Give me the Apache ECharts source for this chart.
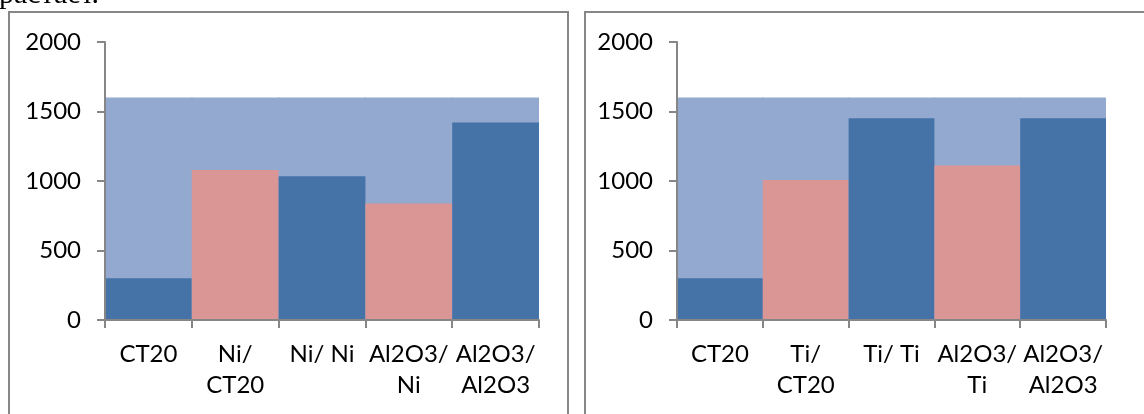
<!DOCTYPE html>
<html>
<head>
<meta charset="utf-8">
<script src="https://cdn.jsdelivr.net/npm/echarts@6/dist/echarts.min.js"></script>
<style>
html,body{margin:0;padding:0;background:#fff;}
#c{width:1144px;height:414px;}
</style>
</head>
<body>
<div id="c"></div>
<script>
const leftCategories = ['CT20', 'Ni/\nCT20', 'Ni/ Ni', 'Al2O3/\nNi', 'Al2O3/\nAl2O3'];
const leftValues = [300, 1080, 1035, 838, 1420];
const rightCategories = ['CT20', 'Ti/\nCT20', 'Ti/ Ti', 'Al2O3/\nTi', 'Al2O3/\nAl2O3'];
const rightValues = [300, 1008, 1452, 1112, 1452];
const backgroundValue = [1600, 1600, 1600, 1600, 1600];
const yTicks = [0, 500, 1000, 1500, 2000];

const DARK = '#4572A7', PINK = '#D99694', LIGHT = '#94A9CF';
const barColors = [DARK, PINK, DARK, PINK, DARK];
const FONT = 'Lato';
const AXIS = '#868686';

const chart = echarts.init(document.getElementById('c'), null, {renderer: 'canvas'});

function xAxis(idx, cats) {
  return {
    type: 'category', gridIndex: idx, data: cats, boundaryGap: true, z: 5,
    axisLine: {lineStyle: {color: AXIS, width: 2}},
    axisTick: {show: true, length: 8, lineStyle: {color: AXIS, width: 2}},
    axisLabel: {color: '#000', fontFamily: FONT, fontSize: 24, lineHeight: 31, margin: 19, interval: 0}
  };
}
function hiddenX(idx, cats) {
  return {type: 'category', gridIndex: idx, data: cats, boundaryGap: true, show: false};
}
function yAxis(idx) {
  return {
    type: 'value', gridIndex: idx, min: yTicks[0], max: yTicks[yTicks.length - 1], interval: 500, z: 5,
    axisLine: {show: true, lineStyle: {color: AXIS, width: 2}},
    axisTick: {show: true, length: 8, lineStyle: {color: AXIS, width: 2}},
    splitLine: {show: false},
    axisLabel: {color: '#000', fontFamily: FONT, fontSize: 24, margin: 24, formatter: v => String(v)}
  };
}
function series(idx, vals) {
  return [
    {type: 'bar', xAxisIndex: idx + 2, yAxisIndex: idx, data: backgroundValue, barWidth: '102%',
     itemStyle: {color: LIGHT}, z: 1, silent: true, clip: true},
    {type: 'bar', xAxisIndex: idx, yAxisIndex: idx, barCategoryGap: 0,
     data: vals.map((v, i) => ({value: v, itemStyle: {color: barColors[i]}})), z: 2, silent: true}
  ];
}

chart.setOption({
  animation: false,
  backgroundColor: '#fff',
  grid: [
    {left: 105, top: 42, width: 434, height: 278},
    {left: 677, top: 42, width: 429, height: 278}
  ],
  xAxis: [xAxis(0, leftCategories), xAxis(1, rightCategories), hiddenX(0, leftCategories), hiddenX(1, rightCategories)],
  yAxis: [yAxis(0), yAxis(1)],
  series: [...series(0, leftValues), ...series(1, rightValues)],
  graphic: [
    {type: 'rect', shape: {x: 9, y: 12, width: 559, height: 500}, style: {fill: 'none', stroke: '#878787', lineWidth: 2}, z: 10},
    {type: 'rect', shape: {x: 585, y: 12, width: 600, height: 500}, style: {fill: 'none', stroke: '#878787', lineWidth: 2}, z: 10},
    {type: 'text', left: -1, top: -20, style: {text: 'растает.', fontFamily: 'Liberation Serif', fontSize: 30, fill: '#000'}, z: 10}
  ]
});
</script>
</body>
</html>
